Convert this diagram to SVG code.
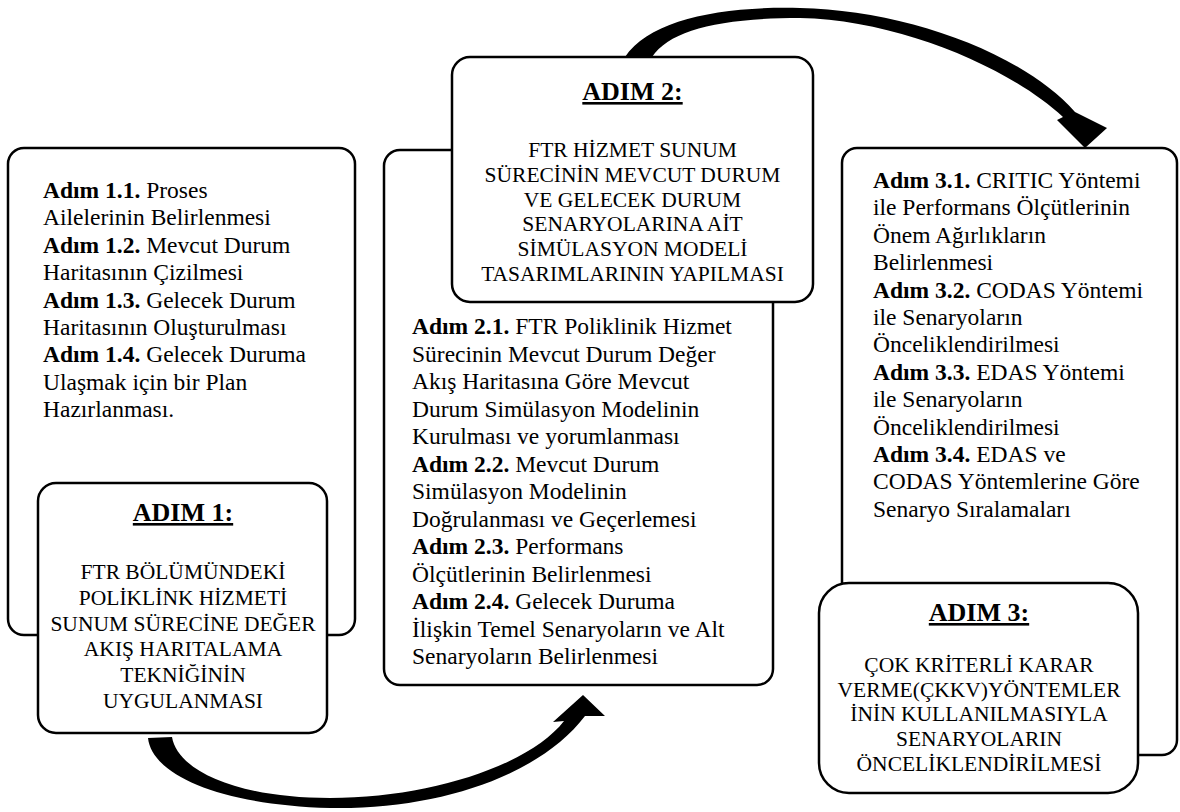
<svg xmlns="http://www.w3.org/2000/svg" width="1180" height="812" viewBox="0 0 1180 812">
  <style>
    .box { fill: #ffffff; stroke: #000000; stroke-width: 2.5; }
    .txt { font-family: "Liberation Serif", "Times New Roman", serif; font-size: 23.5px; fill: #000000; }
    .b { font-weight: bold; }
    .cap { font-family: "Liberation Serif", "Times New Roman", serif; font-size: 21.5px; fill: #000000; text-anchor: middle; }
    .head { font-family: "Liberation Serif", "Times New Roman", serif; font-size: 26px; font-weight: bold; fill: #000000; text-anchor: middle; text-decoration: underline; }
    .arrow { fill: #000000; stroke: none; }
  </style>

  <!-- step 1 detail list -->
  <g id="list1">
    <rect class="box" x="8" y="148" width="347" height="487" rx="16"/>
    <text class="txt" x="43" y="198"><tspan class="b">Adım 1.1.</tspan> Proses</text>
    <text class="txt" x="43" y="225.4">Ailelerinin Belirlenmesi</text>
    <text class="txt" x="43" y="252.8"><tspan class="b">Adım 1.2.</tspan> Mevcut Durum</text>
    <text class="txt" x="43" y="280.2">Haritasının Çizilmesi</text>
    <text class="txt" x="43" y="307.6"><tspan class="b">Adım 1.3.</tspan> Gelecek Durum</text>
    <text class="txt" x="43" y="335">Haritasının Oluşturulması</text>
    <text class="txt" x="43" y="362.4"><tspan class="b">Adım 1.4.</tspan> Gelecek Duruma</text>
    <text class="txt" x="43" y="389.8">Ulaşmak için bir Plan</text>
    <text class="txt" x="43" y="417.2">Hazırlanması.</text>
  </g>

  <!-- step 1 title card -->
  <g id="adim1">
    <rect class="box" x="38" y="483" width="289" height="250" rx="18"/>
    <text class="head" x="183" y="521">ADIM 1:</text>
    <text class="cap" x="183" y="579">FTR BÖLÜMÜNDEKİ</text>
    <text class="cap" x="183" y="604.8">POLİKLİNK HİZMETİ</text>
    <text class="cap" x="183" y="630.6">SUNUM SÜRECİNE DEĞER</text>
    <text class="cap" x="183" y="656.4">AKIŞ HARITALAMA</text>
    <text class="cap" x="183" y="682.2">TEKNİĞİNİN</text>
    <text class="cap" x="183" y="708">UYGULANMASI</text>
  </g>

  <!-- step 2 detail list -->
  <g id="list2">
    <rect class="box" x="384" y="150" width="389" height="535" rx="16"/>
    <text class="txt" x="412" y="334"><tspan class="b">Adım 2.1.</tspan> FTR Poliklinik Hizmet</text>
    <text class="txt" x="412" y="361.5">Sürecinin Mevcut Durum Değer</text>
    <text class="txt" x="412" y="389">Akış Haritasına Göre Mevcut</text>
    <text class="txt" x="412" y="416.5">Durum Simülasyon Modelinin</text>
    <text class="txt" x="412" y="444">Kurulması ve yorumlanması</text>
    <text class="txt" x="412" y="471.5"><tspan class="b">Adım 2.2.</tspan> Mevcut Durum</text>
    <text class="txt" x="412" y="499">Simülasyon Modelinin</text>
    <text class="txt" x="412" y="526.5">Doğrulanması ve Geçerlemesi</text>
    <text class="txt" x="412" y="554"><tspan class="b">Adım 2.3.</tspan> Performans</text>
    <text class="txt" x="412" y="581.5">Ölçütlerinin Belirlenmesi</text>
    <text class="txt" x="412" y="609"><tspan class="b">Adım 2.4.</tspan> Gelecek Duruma</text>
    <text class="txt" x="412" y="636.5">İlişkin Temel Senaryoların ve Alt</text>
    <text class="txt" x="412" y="664">Senaryoların Belirlenmesi</text>
  </g>

  <!-- step 2 title card -->
  <g id="adim2">
    <rect class="box" x="452" y="57" width="361" height="245" rx="18"/>
    <text class="head" x="632.5" y="100">ADIM 2:</text>
    <text class="cap" x="632.5" y="157">FTR HİZMET SUNUM</text>
    <text class="cap" x="632.5" y="181.8">SÜRECİNİN MEVCUT DURUM</text>
    <text class="cap" x="632.5" y="206.6">VE GELECEK DURUM</text>
    <text class="cap" x="632.5" y="231.4">SENARYOLARINA AİT</text>
    <text class="cap" x="632.5" y="256.2">SİMÜLASYON MODELİ</text>
    <text class="cap" x="632.5" y="281">TASARIMLARININ YAPILMASI</text>
  </g>

  <!-- step 3 detail list -->
  <g id="list3">
    <rect class="box" x="842" y="148" width="335" height="607" rx="15"/>
    <text class="txt" x="873" y="188"><tspan class="b">Adım 3.1.</tspan> CRITIC Yöntemi</text>
    <text class="txt" x="873" y="215.4">ile Performans Ölçütlerinin</text>
    <text class="txt" x="873" y="242.8">Önem Ağırlıkların</text>
    <text class="txt" x="873" y="270.2">Belirlenmesi</text>
    <text class="txt" x="873" y="297.6"><tspan class="b">Adım 3.2.</tspan> CODAS Yöntemi</text>
    <text class="txt" x="873" y="325">ile Senaryoların</text>
    <text class="txt" x="873" y="352.4">Önceliklendirilmesi</text>
    <text class="txt" x="873" y="379.8"><tspan class="b">Adım 3.3.</tspan> EDAS Yöntemi</text>
    <text class="txt" x="873" y="407.2">ile Senaryoların</text>
    <text class="txt" x="873" y="434.6">Önceliklendirilmesi</text>
    <text class="txt" x="873" y="462"><tspan class="b">Adım 3.4.</tspan> EDAS ve</text>
    <text class="txt" x="873" y="489.4">CODAS Yöntemlerine Göre</text>
    <text class="txt" x="873" y="516.8">Senaryo Sıralamaları</text>
  </g>

  <!-- step 3 title card -->
  <g id="adim3">
    <rect class="box" x="819" y="583" width="319" height="210" rx="30"/>
    <text class="head" x="979" y="621">ADIM 3:</text>
    <text class="cap" x="979" y="672">ÇOK KRİTERLİ KARAR</text>
    <text class="cap" x="979" y="696.7">VERME(ÇKKV)YÖNTEMLER</text>
    <text class="cap" x="979" y="721.4">İNİN KULLANILMASIYLA</text>
    <text class="cap" x="979" y="746.1">SENARYOLARIN</text>
    <text class="cap" x="979" y="770.8">ÖNCELİKLENDİRİLMESİ</text>
  </g>

  <!-- curved block arrows between the steps -->
  <g id="connectors">
    <path class="arrow" d="M 172,737 L 148,738 C 152,775 220,805 330,808 C 440,810 540,775 585,716 L 605,716 L 583,695 L 553,722 L 564,721 C 530,765 430,798 330,798 C 240,798 178,772 172,737 Z"/>
    <path class="arrow" d="M 625,57 C 650,20 720,6 800,8 C 900,10 1020,50 1075,112 L 1107,128 L 1085,148 L 1057,120 L 1063,117 C 1010,68 900,20 800,18 C 720,18 670,30 652,57 Z"/>
  </g>
</svg>
